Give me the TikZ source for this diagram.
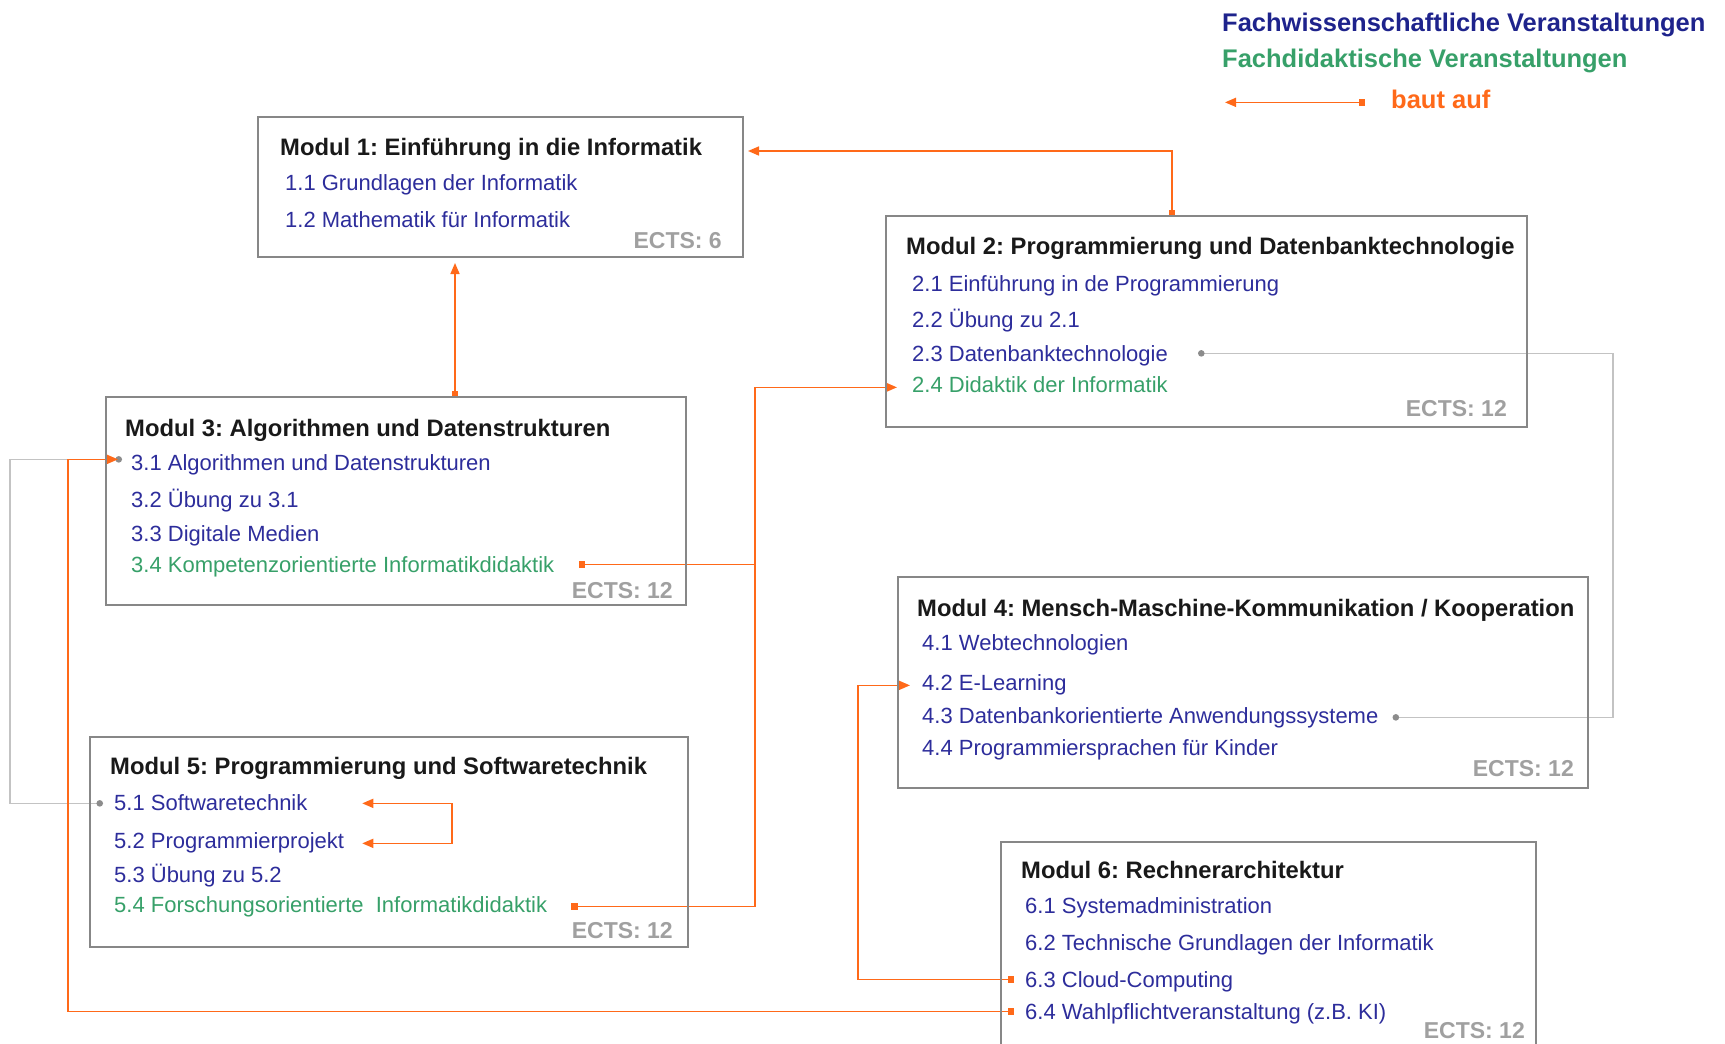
\documentclass[tikz,border=0pt]{standalone}
\usepackage{fontspec}
\setmainfont{Liberation Sans}
\usetikzlibrary{arrows.meta,calc}
\definecolor{itemblue}{RGB}{45,45,155}
\definecolor{legblue}{RGB}{30,35,140}
\definecolor{didgreen}{RGB}{55,160,105}
\definecolor{deporange}{RGB}{255,105,25}
\definecolor{ectsgray}{RGB}{160,160,160}
\definecolor{boxgray}{RGB}{135,135,135}
\definecolor{relgray}{RGB}{195,195,195}
\definecolor{dotgray}{RGB}{140,140,140}
\definecolor{titleblack}{RGB}{25,25,25}
\pgfdeclarelayer{background}
\pgfsetlayers{background,main}
\frenchspacing
\begin{document}
\begin{tikzpicture}[x=1pt,y=-1pt,
  modbox/.style={draw=boxgray, line width=2.5pt, rectangle, inner sep=0pt, outer sep=0pt, anchor=north west},
  modtitle/.style={anchor=base west, inner sep=0pt, font=\fontsize{23.8}{28}\selectfont\bfseries, text=titleblack},
  fach/.style={anchor=base west, inner sep=0pt, font=\fontsize{22}{26}\selectfont, text=itemblue},
  didak/.style={fach, text=didgreen},
  ects/.style={anchor=base east, inner sep=0pt, font=\fontsize{23}{27}\selectfont\bfseries, text=ectsgray},
  legend/.style={anchor=base west, inner sep=0pt, font=\fontsize{25.5}{30}\selectfont\bfseries},
  dep/.style={draw=deporange, line width=1.6pt, {Square[length=6.5pt,width=6.5pt]}-{Triangle[length=11pt,width=9pt]}},
  depjoin/.style={draw=deporange, line width=1.6pt, {Square[length=6.5pt,width=6.5pt]}-},
  mutual/.style={draw=deporange, line width=1.6pt, {Triangle[length=11pt,width=9pt]}-{Triangle[length=11pt,width=9pt]}},
  rel/.style={draw=relgray, line width=1.5pt, {Circle[length=6.5pt,color=dotgray]}-{Circle[length=6.5pt,color=dotgray]}}
]
\useasboundingbox (0,0) rectangle (1725,1044);

% legend
\node[legend, text=legblue] (lg1) at (1222,31) {Fachwissenschaftliche Veranstaltungen};
\node[legend, text=didgreen] (lg2) at (1222,67) {Fachdidaktische Veranstaltungen};
\node[legend, text=deporange] (lg3) at (1391,108) {baut auf};

% Modul 1
\node[modbox, minimum width=485pt, minimum height=140pt] (m1) at (258,117) {};
\node[modtitle] (t1) at (280,155) {Modul 1: Einführung in die Informatik};
\node[fach] (i11) at (285,190) {1.1 Grundlagen der Informatik};
\node[fach] (i12) at (285,227) {1.2 Mathematik für Informatik};
\node[ects] (e1) at (722,248) {ECTS: 6};

% Modul 2
\node[modbox, minimum width=641pt, minimum height=211pt] (m2) at (886,216) {};
\node[modtitle] (t2) at (906,254) {Modul 2: Programmierung und Datenbanktechnologie};
\node[fach] (i21) at (912,291) {2.1 Einführung in de Programmierung};
\node[fach] (i22) at (912,327) {2.2 Übung zu 2.1};
\node[fach] (i23) at (912,361) {2.3 Datenbanktechnologie};
\node[didak] (i24) at (912,392) {2.4 Didaktik der Informatik};
\node[ects] (e2) at (1507,416) {ECTS: 12};

% Modul 3
\node[modbox, minimum width=580pt, minimum height=208pt] (m3) at (106,397) {};
\node[modtitle] (t3) at (125,436) {Modul 3: Algorithmen und Datenstrukturen};
\node[fach] (i31) at (131,470) {3.1 Algorithmen und Datenstrukturen};
\node[fach] (i32) at (131,507) {3.2 Übung zu 3.1};
\node[fach] (i33) at (131,541) {3.3 Digitale Medien};
\node[didak] (i34) at (131,572) {3.4 Kompetenzorientierte Informatikdidaktik};
\node[ects] (e3) at (673,598) {ECTS: 12};

% Modul 4
\node[modbox, minimum width=690pt, minimum height=211pt] (m4) at (898,577) {};
\node[modtitle] (t4) at (917,616) {Modul 4: Mensch-Maschine-Kommunikation / Kooperation};
\node[fach] (i41) at (922,650) {4.1 Webtechnologien};
\node[fach] (i42) at (922,690) {4.2 E-Learning};
\node[fach] (i43) at (922,723) {4.3 Datenbankorientierte Anwendungssysteme};
\node[fach] (i44) at (922,755) {4.4 Programmiersprachen für Kinder};
\node[ects] (e4) at (1574,776) {ECTS: 12};

% Modul 5
\node[modbox, minimum width=598pt, minimum height=210pt] (m5) at (90,737) {};
\node[modtitle] (t5) at (110,774) {Modul 5: Programmierung und Softwaretechnik};
\node[fach] (i51) at (114,810) {5.1 Softwaretechnik};
\node[fach] (i52) at (114,848) {5.2 Programmierprojekt};
\node[fach] (i53) at (114,882) {5.3 Übung zu 5.2};
\node[didak] (i54) at (114,912) {5.4 Forschungsorientierte~ Informatikdidaktik};
\node[ects] (e5) at (673,938) {ECTS: 12};

% Modul 6
\node[modbox, minimum width=535pt, minimum height=240pt] (m6) at (1001,842) {};
\node[modtitle] (t6) at (1021,878) {Modul 6: Rechnerarchitektur};
\node[fach] (i61) at (1025,913) {6.1 Systemadministration};
\node[fach] (i62) at (1025,950) {6.2 Technische Grundlagen der Informatik};
\node[fach] (i63) at (1025,987) {6.3 Cloud-Computing};
\node[fach] (i64) at (1025,1019) {6.4 Wahlpflichtveranstaltung (z.B. KI)};
\node[ects] (e6) at (1525,1038) {ECTS: 12};

% connector points
\coordinate (busC) at (755,0);
\coordinate (busE) at (1613,0);
\coordinate (busF) at (10,0);
\coordinate (busG) at (68,0);
\coordinate (busH) at (858,0);
\coordinate (busI) at (452,0);
\coordinate (a0) at ([xshift=-34.5pt]m2.north);
\coordinate (a1) at ([xshift=5pt,yshift=36pt]m1.east);
\coordinate (b0) at ([xshift=59pt]m3.north);
\coordinate (b1) at ([xshift=-45.5pt,yshift=-6pt]m1.south);
\coordinate (s34) at ([xshift=24pt,yshift=5pt]i34.mid east);
\coordinate (t24) at ([xshift=-15pt,yshift=2pt]i24.mid west);
\coordinate (s54) at ([xshift=24pt,yshift=3pt]i54.mid east);
\coordinate (g23) at ([xshift=30pt,yshift=5pt]i23.mid east);
\coordinate (g43) at ([xshift=14pt,yshift=3pt]i43.mid east);
\coordinate (g31) at ([xshift=-9pt,yshift=8pt]i31.mid west);
\coordinate (g51) at ([xshift=-11pt,yshift=4pt]i51.mid west);
\coordinate (t31) at ([xshift=-13pt,yshift=8pt]i31.mid west);
\coordinate (s64) at ([xshift=-11pt,yshift=5pt]i64.mid west);
\coordinate (s63) at ([xshift=-11pt,yshift=5pt]i63.mid west);
\coordinate (t42) at ([xshift=-12pt,yshift=2pt]i42.mid west);
\coordinate (t52) at ([xshift=18pt,yshift=2pt]i52.mid east);
\coordinate (t51r) at ([yshift=4pt]i51.mid east);
\coordinate (ls) at ([xshift=-26pt,yshift=3pt]lg3.mid west);
\coordinate (lt) at ([xshift=-166pt,yshift=3pt]lg3.mid west);

\begin{pgfonlayer}{background}
\draw[rel] (g23) -- (g23 -| busE) |- (g43);
\draw[rel] (g31) -- (g31 -| busF) |- (g51);
\draw[dep] (a0) |- (a1);
\draw[dep] (b0) -- (b1);
\draw[dep] (s34) -| (busC |- t24) -- (t24);
\draw[depjoin] (s54) -| (busC |- s34);
\draw[dep] (s64) -- (s64 -| busG) |- (t31);
\draw[dep] (s63) -- (s63 -| busH) |- (t42);
\draw[mutual] (t51r -| t52) -- (t51r -| busI) |- (t52);
\draw[dep] (ls) -- (lt);
\end{pgfonlayer}
\end{tikzpicture}
\end{document}
